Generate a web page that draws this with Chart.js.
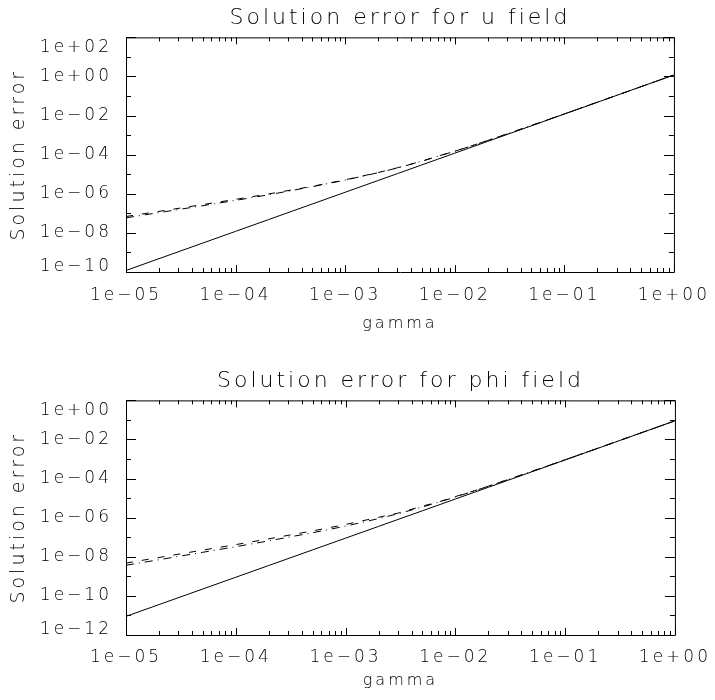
<!DOCTYPE html>
<html>
<head>
<meta charset="utf-8">
<script src="https://cdn.jsdelivr.net/npm/chart.js@4.4.1/dist/chart.umd.min.js"></script>
<style>
  html, body { margin: 0; padding: 0; background: #fff; }
  .panel { position: absolute; left: 0; width: 715px; height: 350px; }
</style>
</head>
<body>
<div class="panel" style="top:0"><canvas id="uField" width="715" height="350"></canvas></div>
<div class="panel" style="top:350px"><canvas id="phiField" width="715" height="350"></canvas></div>
<script>
const gamma = [1e-5, 2e-5, 5e-5, 1e-4, 2e-4, 5e-4, 1e-3, 2e-3, 3e-3, 5e-3, 7e-3, 1e-2, 1.5e-2, 2e-2, 3e-2, 5e-2, 1e-1, 2e-1, 5e-1, 1];

// u field errors
const uSolid   = [1.2e-10, 4.8e-10, 3.0e-9, 1.2e-8, 4.8e-8, 3.0e-7, 1.2e-6, 4.8e-6, 1.08e-5, 3.0e-5, 5.88e-5, 1.2e-4, 2.7e-4, 4.8e-4, 1.08e-3, 3.0e-3, 1.2e-2, 4.8e-2, 0.30, 1.2];
const uDashDot = [5.9e-8, 1.09e-7, 2.46e-7, 4.6e-7, 8.9e-7, 2.3e-6, 5.0e-6, 1.2e-5, 2.1e-5, 4.6e-5, 8.3e-5, 1.5e-4, 3.1e-4, 5.35e-4, 1.15e-3, 3.1e-3, 1.22e-2, 4.84e-2, 0.30, 1.2];
const uDashed  = [6.9e-8, 1.26e-7, 2.8e-7, 5.2e-7, 9.8e-7, 2.4e-6, 5.2e-6, 1.22e-5, 2.15e-5, 4.65e-5, 8.4e-5, 1.51e-4, 3.12e-4, 5.35e-4, 1.15e-3, 3.1e-3, 1.22e-2, 4.84e-2, 0.30, 1.2];

// phi field errors
const phiSolid   = [9e-12, 3.6e-11, 2.25e-10, 9e-10, 3.6e-9, 2.25e-8, 9e-8, 3.6e-7, 8.1e-7, 2.25e-6, 4.41e-6, 9e-6, 2.03e-5, 3.6e-5, 8.1e-5, 2.25e-4, 9e-4, 3.6e-3, 2.25e-2, 9e-2];
const phiDashDot = [3.7e-9, 7.1e-9, 1.7e-8, 3.3e-8, 6.55e-8, 1.7e-7, 3.7e-7, 9.0e-7, 1.6e-6, 3.5e-6, 6.15e-6, 1.14e-5, 2.39e-5, 4.07e-5, 8.8e-5, 2.36e-4, 9.2e-4, 3.64e-3, 2.26e-2, 9e-2];
const phiDashed  = [4.8e-9, 9.2e-9, 2.2e-8, 4.2e-8, 8.3e-8, 2.1e-7, 4.5e-7, 1.05e-6, 1.7e-6, 3.9e-6, 6.3e-6, 1.2e-5, 2.42e-5, 4.1e-5, 8.85e-5, 2.36e-4, 9.2e-4, 3.64e-3, 2.26e-2, 9e-2];

// labelled ticks
const xTicks   = [1e-5, 1e-4, 1e-3, 1e-2, 1e-1, 1];
const uTicks   = [1e-10, 1e-8, 1e-6, 1e-4, 1e-2, 1, 1e2];
const phiTicks = [1e-12, 1e-10, 1e-8, 1e-6, 1e-4, 1e-2, 1];

const FONT = "'DejaVu Sans'";
const SPACING = '3px';

Chart.defaults.color = '#000';
Chart.defaults.font.family = FONT;
Chart.defaults.font.weight = '200';

function expLabel(v) {
  const e = Math.round(Math.log10(v));
  return '1e' + (e < 0 ? '\u2212' : '+') + String(Math.abs(e)).padStart(2, '0');
}

// box, inward tick marks on all four sides
const frame = {
  id: 'frame',
  beforeLayout(chart) { chart.ctx.letterSpacing = SPACING; },
  beforeDraw(chart) { chart.ctx.letterSpacing = SPACING; },
  afterDraw(chart) {
    const {ctx, chartArea: a, scales: {x, y}} = chart;
    ctx.save();
    ctx.strokeStyle = '#000';
    ctx.lineWidth = 1;
    ctx.beginPath();
    ctx.rect(a.left + 0.5, a.top + 0.5, a.right - a.left, a.bottom - a.top);
    const yLo = Math.round(Math.log10(y.min)), yHi = Math.round(Math.log10(y.max));
    for (let e = yLo; e <= yHi; e++) {
      const p = Math.round(y.getPixelForValue(10 ** e)) + 0.5;
      const len = (e - yLo) % 2 === 0 ? 10 : 5;
      ctx.moveTo(a.left, p); ctx.lineTo(a.left + len, p);
      ctx.moveTo(a.right, p); ctx.lineTo(a.right - len, p);
    }
    const xLo = Math.round(Math.log10(x.min)), xHi = Math.round(Math.log10(x.max));
    for (let d = xLo; d <= xHi; d++) {
      for (let m = 1; m <= 9; m++) {
        const v = m * 10 ** d;
        if (v > x.max * 1.0001) break;
        const p = Math.round(x.getPixelForValue(v)) + 0.5;
        const len = m === 1 ? 7 : 4;
        ctx.moveTo(p, a.bottom); ctx.lineTo(p, a.bottom - len);
        ctx.moveTo(p, a.top); ctx.lineTo(p, a.top + len);
      }
    }
    ctx.stroke();
    ctx.restore();
  }
};

function line(values, dash) {
  return {
    data: gamma.map((g, i) => ({x: g, y: values[i]})),
    borderColor: '#000',
    borderWidth: 1,
    borderDash: dash,
    pointRadius: 0,
    tension: 0,
    fill: false
  };
}

function makeChart(id, title, series, yTicks, opt) {
  const last = yTicks.length - 1;
  return new Chart(document.getElementById(id), {
    type: 'line',
    data: {
      datasets: [
        line(series[0], []),
        line(series[1], [8, 5, 1, 5]),
        line(series[2], [7, 9])
      ]
    },
    options: {
      responsive: false,
      animation: false,
      events: [],
      layout: {padding: {left: 0, right: 38, top: 0, bottom: 0}},
      plugins: {
        legend: {display: false},
        tooltip: {enabled: false},
        title: {
          display: true,
          fullSize: false,
          text: title,
          color: '#000',
          font: {family: FONT, size: 22, weight: '200'},
          padding: opt.titlePad
        }
      },
      scales: {
        x: {
          type: 'logarithmic',
          min: xTicks[0],
          max: xTicks[xTicks.length - 1],
          bounds: 'data',
          grid: {display: false},
          border: {display: false},
          afterBuildTicks: s => { s.ticks = xTicks.map(v => ({value: v})); },
          afterFit: s => { s.height = opt.xHeight; },
          ticks: {
            autoSkip: false,
            maxRotation: 0,
            padding: opt.xLabelPad,
            font: {family: FONT, size: 17, weight: '200'},
            callback: v => expLabel(v)
          },
          title: {
            display: true,
            text: 'gamma',
            font: {family: FONT, size: 16, weight: '200'},
            padding: {top: 0, bottom: opt.gammaPad}
          }
        },
        y: {
          type: 'logarithmic',
          min: yTicks[0],
          max: yTicks[last],
          bounds: 'data',
          grid: {display: false},
          border: {display: false},
          afterBuildTicks: s => { s.ticks = yTicks.map(v => ({value: v})); },
          afterFit: s => { s.width = 126; },
          ticks: {
            autoSkip: false,
            padding: 6,
            font: c => ({family: FONT, size: 17, weight: '200',
                         lineHeight: c.index === 0 ? 0.64 : 1.24}),
            callback: (v, i) => i === 0 ? [expLabel(v), ''] : i === last ? ['', expLabel(v)] : expLabel(v)
          },
          title: {
            display: true,
            text: 'Solution error',
            font: {family: FONT, size: 19, weight: '200'},
            padding: {top: 8, bottom: 0}
          }
        }
      }
    },
    plugins: [frame]
  });
}

makeChart('uField', 'Solution error for u field', [uSolid, uDashDot, uDashed], uTicks,
  {titlePad: {top: 5, bottom: 6}, xHeight: 78, xLabelPad: 5, gammaPad: 17});
makeChart('phiField', 'Solution error for phi field', [phiSolid, phiDashDot, phiDashed], phiTicks,
  {titlePad: {top: 18, bottom: 6}, xHeight: 65, xLabelPad: 4, gammaPad: 10});
</script>
</body>
</html>
